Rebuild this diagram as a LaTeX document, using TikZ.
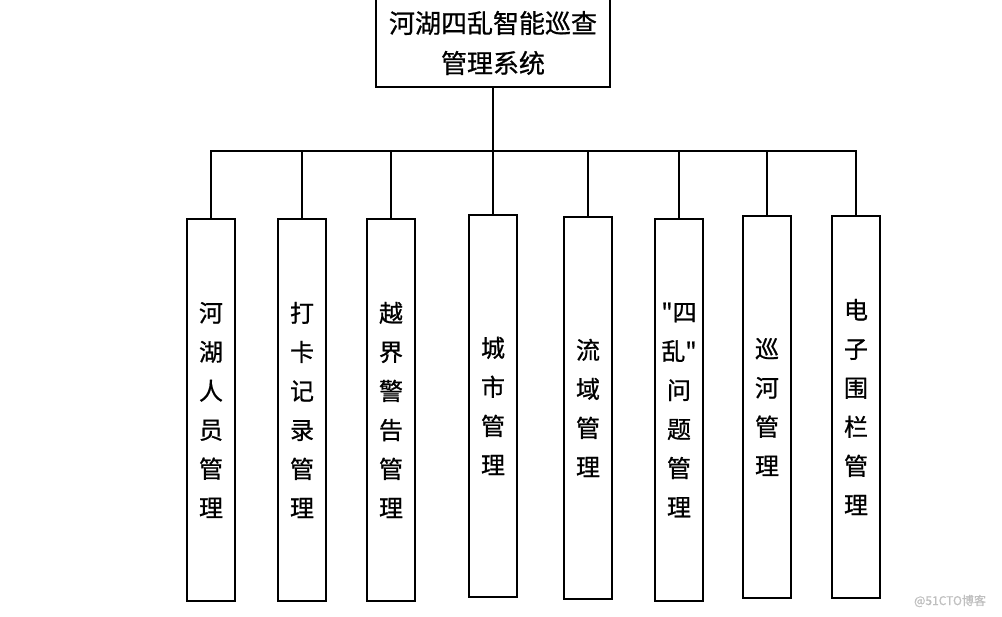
\documentclass[tikz,border=0pt]{standalone}
\usepackage{fontspec}
\setmainfont{Noto Sans CJK SC}[Ligatures=TeXOff,FakeBold=0.8]
\usepackage{tikz}
\usetikzlibrary{positioning}
\tikzset{
    state/.style = {draw, line width=1.3pt, minimum width=234pt, minimum height=88pt,
                 align=center, font=\fontsize{26}{40}\selectfont},
    part/.style = {draw, line width=1.7pt, minimum width=48pt, minimum height=382pt,
                 inner sep=0pt, align=center, font=\fontsize{24}{39}\selectfont},
}

\begin{document}
\begin{tikzpicture}[x=1pt,y=-1pt,line width=1.7pt]
 \useasboundingbox (0,0) rectangle (1002,617);
 \node (n0) [state] at (493,43) {河湖四乱智能巡查\\管理系统};

 \node (c1) [part] at (211,410) {河\\湖\\人\\员\\管\\理};
 \node (c2) [part] at (302,410) {打\\卡\\记\\录\\管\\理};
 \node (c3) [part] at (391,410) {越\\界\\警\\告\\管\\理};
 \node (c4) [part] at (493,406) {城\\市\\管\\理};
 \node (c5) [part] at (588,408) {流\\域\\管\\理};
 \node (c6) [part] at (679,410) {"四\\乱"\\问\\题\\管\\理};
 \node (c7) [part] at (767,407) {巡\\河\\管\\理};
 \node (c8) [part] at (856,407) {电\\子\\围\\栏\\管\\理};

 \coordinate (bus) at (493,151);
 \draw (n0) -- (bus);
 \foreach \i in {1,...,8}
   \draw (c\i.north) |- (bus);

 \node (wm) [text=black!25, font=\fontsize{12}{14}\selectfont] at (950,601) {@51CTO博客};
\end{tikzpicture}
\end{document}
